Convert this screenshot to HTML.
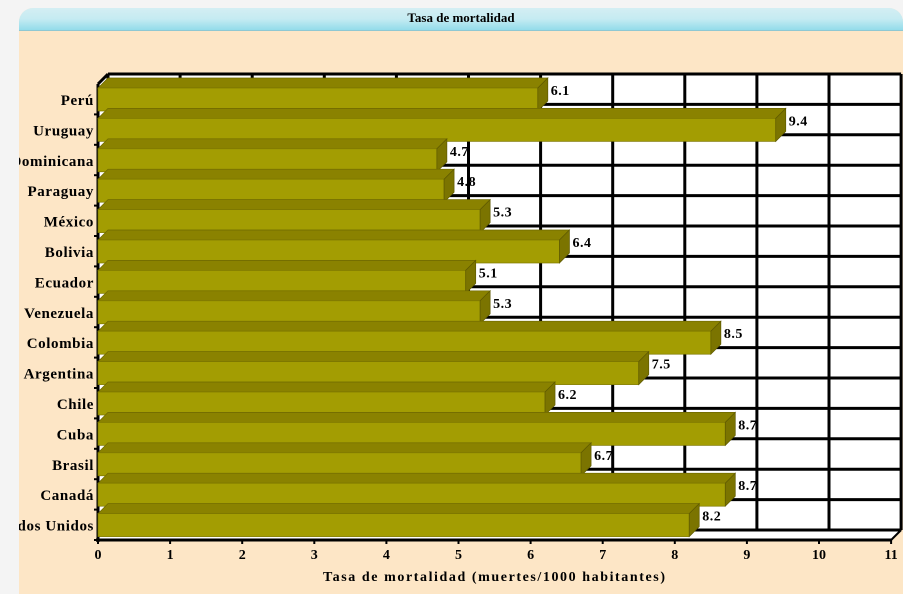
<!DOCTYPE html>
<html><head><meta charset="utf-8"><style>
body{margin:0;width:903px;height:594px;background:#f4f4f4;overflow:hidden;font-family:"Liberation Serif",serif;}
#panel{position:absolute;left:19px;top:8px;width:884px;height:586px;background:#fde6c6;border-radius:14px 14px 0 0;overflow:hidden;}
#hdr{position:absolute;left:0;top:0;width:884px;height:22px;background:linear-gradient(#d4eef3,#c5ebf2 50%,#93dcea);border-bottom:1px solid #8fc8d2;text-align:center;font:bold 13px "Liberation Serif",serif;line-height:20px;color:#000;}
svg{position:absolute;left:0;top:0}
</style></head><body>
<div id="panel"><div id="hdr">Tasa de mortalidad</div></div>
<svg id="c" width="903" height="594"></svg>
<script>
const categories=["Perú","Uruguay","República Dominicana","Paraguay","México","Bolivia","Ecuador","Venezuela","Colombia","Argentina","Chile","Cuba","Brasil","Canadá","Estados Unidos"];
const values=[6.1,9.4,4.7,4.8,5.3,6.4,5.1,5.3,8.5,7.5,6.2,8.7,6.7,8.7,8.2];
const valueLabels=["6.1","9.4","4.7","4.8","5.3","6.4","5.1","5.3","8.5","7.5","6.2","8.7","6.7","8.7","8.2"];
const xTicks=[0,1,2,3,4,5,6,7,8,9,10,11];
const NS="http://www.w3.org/2000/svg",svg=document.getElementById('c');
const X0=98,SC=72.1,TOP=84,BAND=30.4,D=10,BOT=TOP+BAND*categories.length;
const x=v=>X0+v*SC, y=i=>TOP+i*BAND;
function mk(t,a,p){const e=document.createElementNS(NS,t);for(const k in a)e.setAttribute(k,a[k]);(p||svg).appendChild(e);return e;}
const clip=mk('clipPath',{id:'cp'});mk('rect',{x:19,y:0,width:884,height:594},clip);
const g=mk('g',{'clip-path':'url(#cp)'});
const wall=mk('rect',{x:X0+D,y:TOP-D,width:x(11)-X0,height:BOT-TOP,fill:'#fff'},g);

mk('polygon',{points:`${X0},${TOP} ${X0+D},${TOP-D} ${X0+D},${BOT-D} ${X0},${BOT}`,fill:'#fff'},g);
mk('polygon',{points:`${X0},${BOT} ${X0+D},${BOT-D} ${x(11)+D},${BOT-D} ${x(11)},${BOT}`,fill:'#fff'},g);
xTicks.forEach(t=>{const l=mk('line',{x1:x(t)+D,y1:TOP-D,x2:x(t)+D,y2:BOT-D,stroke:'#000','stroke-width':3},g);
});
for(let i=0;i<=categories.length;i++){const l=mk('line',{x1:X0+D,y1:y(i)-D,x2:x(11)+D,y2:y(i)-D,stroke:'#000','stroke-width':3},g);
}
mk('line',{x1:X0,y1:TOP,x2:X0+D,y2:TOP-D,stroke:'#000','stroke-width':3},g);
const ya=mk('line',{x1:X0,y1:TOP,x2:X0,y2:BOT+2,stroke:'#000','stroke-width':3},g);

const xa=mk('line',{x1:X0-2,y1:BOT,x2:x(11),y2:BOT,stroke:'#000','stroke-width':3},g);

mk('line',{x1:x(11),y1:BOT,x2:x(11)+D,y2:BOT-D,stroke:'#000','stroke-width':2},g);
categories.forEach((c,i)=>{
 const ft=y(i)+4,h=23,xe=x(values[i]);
 const b=mk('g',{},g);
 
 
 mk('polygon',{points:`${X0},${ft} ${X0+D},${ft-D} ${xe+D},${ft-D} ${xe},${ft}`,fill:'#8a8200',stroke:'#6e6800','stroke-width':0.7},b);
 mk('rect',{x:X0,y:ft,width:xe-X0,height:h,fill:'#a39d02',stroke:'#7e7800','stroke-width':0.7},b);
 mk('polygon',{points:`${xe},${ft} ${xe+D},${ft-D} ${xe+D},${ft+h-D} ${xe},${ft+h}`,fill:'#7b7400',stroke:'#5e5900','stroke-width':0.7},b);
 const vl=mk('text',{x:xe+D+3,y:ft+7,'font-size':14,'font-weight':'bold','letter-spacing':0.5,'font-family':'Liberation Serif, serif',fill:'#000'},g);
 vl.textContent=valueLabels[i];
 
 const cl=mk('text',{x:94,y:ft+17,'text-anchor':'end','font-size':15,'font-weight':'bold','letter-spacing':0.6,'font-family':'Liberation Serif, serif',fill:'#000'},g);
 cl.textContent=c;
 
 mk('line',{x1:X0-4,y1:y(i+1),x2:X0,y2:y(i+1),stroke:'#000','stroke-width':2},g);
});
xTicks.forEach(t=>{
 mk('line',{x1:x(t),y1:BOT,x2:x(t),y2:BOT+4,stroke:'#000','stroke-width':2},g);
 const tl=mk('text',{x:x(t),y:BOT+19,'text-anchor':'middle','font-size':14,'font-weight':'bold','font-family':'Liberation Serif, serif',fill:'#000'},g);
 tl.textContent=t;
 
});
const xt=mk('text',{x:494,y:581,'text-anchor':'middle','font-size':14,'font-weight':'bold','textLength':342,'lengthAdjust':'spacing','font-family':'Liberation Serif, serif',fill:'#000'},g);
xt.textContent='Tasa de mortalidad (muertes/1000 habitantes)';

</script>
</body></html>
